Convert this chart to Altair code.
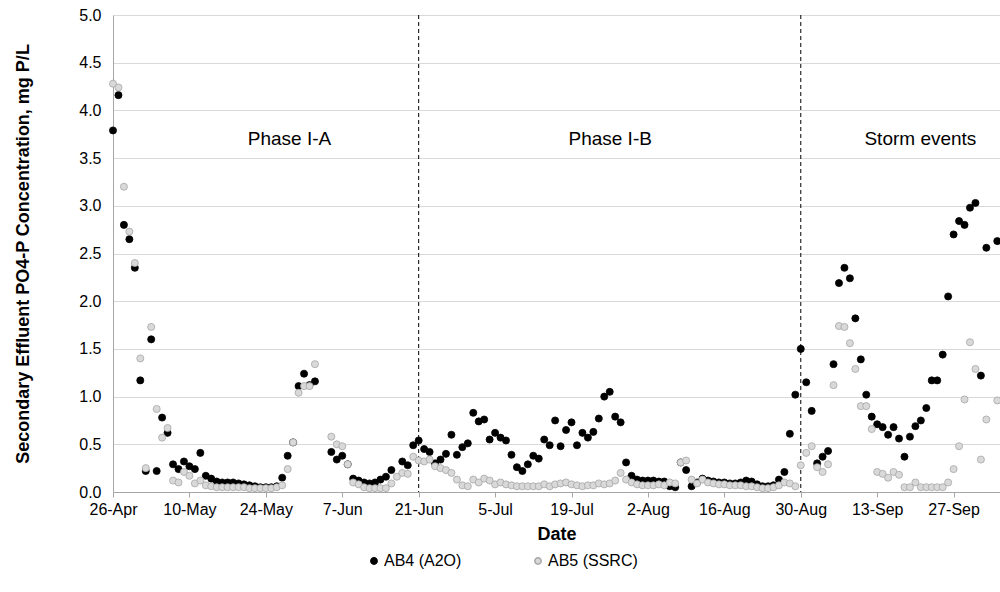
import altair as alt
import pandas as pd

start = "2013-04-26"
ab4 = [3.79, 4.16, 2.80, 2.65, 2.35, 1.17, 0.22, 1.60, 0.22, 0.78,
       0.62, 0.29, 0.24, 0.32, 0.27, 0.24, 0.41, 0.17, 0.14, 0.11,
       0.10, 0.10, 0.10, 0.09, 0.08, 0.07, 0.06, 0.05, 0.05, 0.05,
       0.06, 0.15, 0.38, 0.52, 1.11, 1.24, 1.12, 1.16, None, None,
       0.42, 0.34, 0.38, 0.29, 0.14, 0.12, 0.10, 0.09, 0.10, 0.13,
       0.16, 0.23, None, 0.32, 0.28, 0.49, 0.54, 0.45, 0.42, 0.30,
       0.34, 0.40, 0.60, 0.39, 0.47, 0.51, 0.83, 0.74, 0.76, 0.55,
       0.62, 0.57, 0.54, 0.39, 0.26, 0.22, 0.29, 0.38, 0.35, 0.55,
       0.49, 0.75, 0.48, 0.65, 0.73, 0.49, 0.62, 0.57, 0.63, 0.77,
       1.00, 1.05, 0.79, 0.73, 0.31, 0.17, 0.13, 0.12, 0.12, 0.12,
       0.11, 0.11, 0.06, 0.05, 0.31, 0.23, 0.06, 0.10, 0.14, 0.12,
       0.11, 0.10, 0.10, 0.09, 0.09, 0.10, 0.12, 0.11, 0.08, 0.06,
       0.06, 0.07, 0.13, 0.21, 0.61, 1.02, 1.50, 1.15, 0.85, 0.30,
       0.37, 0.43, 1.34, 2.19, 2.35, 2.24, 1.82, 1.39, 1.02, 0.79,
       0.71, 0.68, 0.60, 0.68, 0.56, 0.37, 0.58, 0.69, 0.75, 0.88,
       1.17, 1.17, 1.44, 2.05, 2.70, 2.84, 2.80, 2.98, 3.03, 1.22,
       2.56, None, 2.63]
ab5 = [4.28, 4.24, 3.20, 2.73, 2.40, 1.40, 0.25, 1.73, 0.87, 0.57,
       0.67, 0.12, 0.10, 0.21, 0.17, 0.09, 0.12, 0.07, 0.06, 0.05,
       0.05, 0.05, 0.05, 0.05, 0.05, 0.04, 0.04, 0.04, 0.04, 0.04,
       0.05, 0.07, 0.24, 0.52, 1.04, 1.11, 1.11, 1.34, None, None,
       0.58, 0.50, 0.48, 0.29, 0.10, 0.08, 0.05, 0.04, 0.04, 0.04,
       0.04, 0.09, 0.16, 0.20, 0.19, 0.37, 0.33, 0.32, 0.34, 0.27,
       0.25, 0.23, 0.20, 0.13, 0.07, 0.06, 0.13, 0.10, 0.14, 0.12,
       0.08, 0.10, 0.08, 0.07, 0.06, 0.06, 0.06, 0.06, 0.06, 0.08,
       0.06, 0.08, 0.09, 0.10, 0.08, 0.07, 0.06, 0.07, 0.07, 0.09,
       0.08, 0.09, 0.12, 0.20, 0.13, 0.10, 0.08, 0.07, 0.07, 0.07,
       0.08, 0.07, 0.10, 0.09, 0.31, 0.33, 0.13, 0.09, 0.13, 0.10,
       0.09, 0.08, 0.08, 0.07, 0.07, 0.07, 0.06, 0.06, 0.05, 0.04,
       0.04, 0.05, 0.07, 0.10, 0.09, 0.06, 0.28, 0.41, 0.48, 0.26,
       0.21, 0.29, 1.12, 1.74, 1.73, 1.56, 1.29, 0.90, 0.90, 0.66,
       0.21, 0.19, 0.15, 0.21, 0.18, 0.05, 0.05, 0.10, 0.05, 0.05,
       0.05, 0.05, 0.05, 0.10, 0.24, 0.48, 0.97, 1.57, 1.29, 0.34,
       0.76, None, 0.96]

series_names = ["AB4 (A2O)", "AB5 (SSRC)"]
tick_dates = ["2013-04-26", "2013-05-10", "2013-05-24", "2013-06-07", "2013-06-21",
              "2013-07-05", "2013-07-19", "2013-08-02", "2013-08-16", "2013-08-30",
              "2013-09-13", "2013-09-27"]
phase_boundaries = ["2013-06-21", "2013-08-30"]
phase_labels = ["Phase I-A", "Phase I-B", "Storm events"]
phase_label_dates = ["2013-05-28T08:00:00", "2013-07-26T02:00:00", "2013-09-20T22:00:00"]
phase_label_y = [3.70, 3.70, 3.70]

dates = pd.date_range(start, periods=len(ab4), freq="D")
rows = []
for name, vals in zip(series_names, [ab4, ab5]):
    for d, v in zip(dates, vals):
        if v is not None:
            rows.append({"date": d.strftime("%Y-%m-%dT%H:%M:%S"), "value": v, "series": name})
df = pd.DataFrame(rows)

def dt(s):
    t = pd.Timestamp(s)
    return alt.DateTime(year=t.year, month=t.month, date=t.day, hours=t.hour)

font = "Liberation Sans"

x_enc = alt.X("date:T",
              scale=alt.Scale(domain=[dt("2013-04-26"), dt("2013-10-05T12:00:00")]),
              axis=alt.Axis(values=[dt(s) for s in tick_dates], format="%-d-%b",
                            labelAngle=0, grid=False, tickSize=5, tickColor="#a6a6a6",
                            domainColor="#a6a6a6", labelFontSize=16, labelColor="#000000",
                            labelPadding=4, labelFlush=False, labelOverlap=False,
                            title="Date", titleFontSize=18,
                            titleFontWeight="bold", titlePadding=8, labelFont=font, titleFont=font))
y_enc = alt.Y("value:Q",
              scale=alt.Scale(domain=[0, 5]),
              axis=alt.Axis(values=[i * 0.5 for i in range(11)], format=".1f", grid=True,
                            gridColor="#d9d9d9", ticks=False, domainColor="#a6a6a6",
                            labelFontSize=16, labelColor="#000000", labelPadding=12,
                            title="Secondary Effluent PO4-P Concentration, mg P/L",
                            titleFontSize=18, titleFontWeight="bold", titlePadding=46,
                            labelFont=font, titleFont=font))

legend = alt.Legend(title=None, orient="none", direction="horizontal",
                    legendX=253, legendY=538, labelFontSize=16, labelOffset=2,
                    labelFont=font, symbolType="circle", symbolSize=40,
                    columnPadding=68, labelLimit=300)

points = alt.Chart(df).mark_circle(size=50, opacity=1, strokeWidth=0.8).encode(
    x=x_enc,
    y=y_enc,
    color=alt.Color("series:N",
                    scale=alt.Scale(domain=series_names, range=["#000000", "#d9d9d9"]),
                    legend=legend),
    stroke=alt.Stroke("series:N",
                      scale=alt.Scale(domain=series_names, range=["#000000", "#a6a6a6"]),
                      legend=legend),
)

bdf = pd.DataFrame({"date": phase_boundaries})
rules = alt.Chart(bdf).mark_rule(color="#000000", strokeDash=[4, 3], strokeWidth=1).encode(
    x="date:T")

ldf = pd.DataFrame({"date": phase_label_dates, "value": phase_label_y, "label": phase_labels})
texts = alt.Chart(ldf).mark_text(fontSize=19, font=font, color="#000000",
                                 baseline="middle", align="center").encode(
    x="date:T", y="value:Q", text="label:N")

chart = alt.layer(rules, points, texts).properties(
    width=887, height=477,
    autosize=alt.AutoSizeParams(type="none"),
    padding={"left": 113, "top": 15, "right": 0, "bottom": 100},
).configure_view(stroke=None)

chart.save("out.html", embed_options={"renderer": "svg", "actions": False})
